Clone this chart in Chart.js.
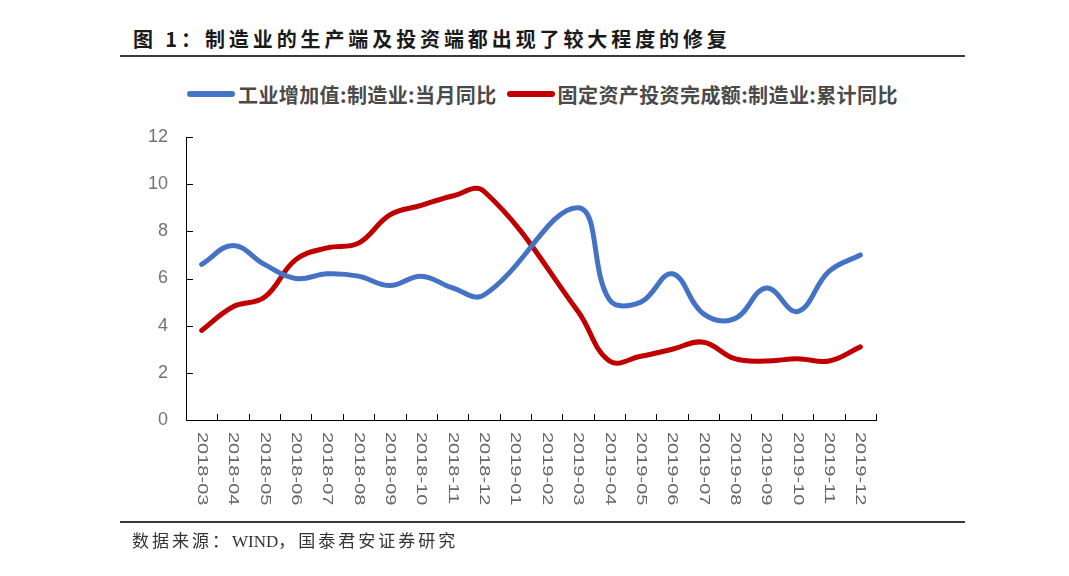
<!DOCTYPE html>
<html>
<head>
<meta charset="utf-8">
<script src="https://cdn.jsdelivr.net/npm/chart.js@4.4.1/dist/chart.umd.min.js"></script>
<style>
  body { margin: 0; background: #fff; }
  #wrap { position: relative; width: 1069px; height: 576px; overflow: hidden; font-family: "Noto Sans CJK SC", sans-serif; }
  #title { position: absolute; left: 133px; top: 25px; font-size: 20px; font-weight: bold; color: #1a1a1a; letter-spacing: 3.9px; line-height: 28px; white-space: nowrap; }
  .rule { position: absolute; left: 120px; width: 845px; height: 2px; background: #3a3a3a; }
  #legend { position: absolute; left: 187px; top: 80px; height: 28px; display: flex; align-items: center; white-space: nowrap; }
  .item { display: flex; align-items: center; font-size: 20px; font-weight: bold; color: #4a4a4a; letter-spacing: 0.4px; }
  .swatch { width: 48px; height: 6px; border-radius: 3px; margin-right: 3px; }
  #source { position: absolute; left: 132px; top: 532px; font-size: 17px; color: #333; letter-spacing: 3px; font-family: "Liberation Serif", "Noto Sans CJK SC", serif; line-height: 20px; white-space: nowrap; }
  #source .latin { letter-spacing: 0; }
  canvas { position: absolute; left: 0; top: 0; }
</style>
</head>
<body>
<div id="wrap">
  <div id="title">图 1：制造业的生产端及投资端都出现了较大程度的修复</div>
  <div class="rule" style="top:55px"></div>
  <div id="legend"></div>
  <canvas id="chart" width="1069" height="576"></canvas>
  <div class="rule" style="top:521px"></div>
  <div id="source">数据来源：<span class="latin">WIND</span>，国泰君安证券研究</div>
</div>
<script>
const months = ["2018-03", "2018-04", "2018-05", "2018-06", "2018-07", "2018-08", "2018-09", "2018-10",
  "2018-11", "2018-12", "2019-01", "2019-02", "2019-03", "2019-04", "2019-05", "2019-06",
  "2019-07", "2019-08", "2019-09", "2019-10", "2019-11", "2019-12"];

// 工业增加值:制造业:当月同比 (1-2月无单月数据)
const valueAdded = [6.6, 7.4, 6.6, 6.0, 6.2, 6.1, 5.7, 6.1, 5.6, 5.3, null, null,
  9.0, 5.1, 5.0, 6.2, 4.5, 4.3, 5.6, 4.6, 6.3, 7.0];

// 固定资产投资完成额:制造业:累计同比
const fixedInvest = [3.8, 4.8, 5.2, 6.8, 7.3, 7.5, 8.7, 9.1, 9.5, 9.7, null, null,
  4.6, 2.5, 2.7, 3.0, 3.3, 2.6, 2.5, 2.6, 2.5, 3.1];

const yTicks = [0, 2, 4, 6, 8, 10, 12];

const seriesNames = ["工业增加值:制造业:当月同比", "固定资产投资完成额:制造业:累计同比"];
const seriesColors = ["#4472C4", "#C00000"];

// html legend
const legendEl = document.getElementById("legend");
seriesNames.forEach((name, i) => {
  const item = document.createElement("div");
  item.className = "item";
  if (i > 0) item.style.marginLeft = "10px";
  item.innerHTML = '<span class="swatch" style="background:' + seriesColors[i] + '"></span>' + name;
  legendEl.appendChild(item);
});

// ticks drawn inside the axes + vertical month labels
const axisDecor = {
  id: "axisDecor",
  afterDraw(chart) {
    const { ctx, chartArea, scales } = chart;
    const x = scales.x, y = scales.y;
    ctx.save();
    ctx.strokeStyle = "#000";
    ctx.lineWidth = 1;
    ctx.beginPath();
    yTicks.forEach(v => {
      const py = Math.round(y.getPixelForValue(v)) + 0.5;
      ctx.moveTo(chartArea.left, py);
      ctx.lineTo(chartArea.left + 7, py);
    });
    for (let i = 1; i <= months.length; i++) {
      let px;
      if (i === months.length) px = chartArea.right;
      else px = (x.getPixelForValue(i - 1) + x.getPixelForValue(i)) / 2;
      px = Math.round(px) + 0.5;
      ctx.moveTo(px, chartArea.bottom);
      ctx.lineTo(px, chartArea.bottom - 6);
    }
    ctx.stroke();

    ctx.fillStyle = "#666";
    ctx.font = "20px 'Liberation Sans', Arial, sans-serif";
    ctx.textAlign = "left";
    ctx.textBaseline = "middle";
    months.forEach((m, i) => {
      ctx.save();
      ctx.translate(x.getPixelForValue(i), chartArea.bottom + 12);
      ctx.rotate(Math.PI / 2);
      ctx.scale(1, 0.7);
      ctx.fillText(m, 0, 0);
      ctx.restore();
    });
    ctx.restore();
  }
};

new Chart(document.getElementById("chart"), {
  type: "line",
  data: {
    labels: months,
    datasets: [
      { label: seriesNames[0], data: valueAdded, borderColor: seriesColors[0], backgroundColor: seriesColors[0] },
      { label: seriesNames[1], data: fixedInvest, borderColor: seriesColors[1], backgroundColor: seriesColors[1] }
    ]
  },
  options: {
    responsive: false,
    animation: false,
    devicePixelRatio: 1,
    spanGaps: true,
    layout: { padding: { left: 146, right: 193, top: 137, bottom: 56 } },
    elements: {
      line: { borderWidth: 5, tension: 0.4, borderCapStyle: "round", borderJoinStyle: "round" },
      point: { radius: 0, hoverRadius: 0 }
    },
    plugins: {
      legend: { display: false },
      tooltip: { enabled: false }
    },
    scales: {
      x: {
        type: "category",
        offset: true,
        grid: { display: false, offset: true },
        border: { display: true, color: "#000", width: 1 },
        ticks: { display: false },
        afterFit(scale) { scale.height = 100; }
      },
      y: {
        min: 0,
        max: 12,
        grid: { drawOnChartArea: false, drawTicks: false },
        border: { display: true, color: "#000", width: 1 },
        ticks: {
          stepSize: 2,
          padding: 18,
          color: "#737373",
          font: { family: "'Liberation Sans', Arial, sans-serif", size: 18 }
        },
        afterFit(scale) { scale.width = 40; }
      }
    }
  },
  plugins: [axisDecor]
});
</script>
</body>
</html>
